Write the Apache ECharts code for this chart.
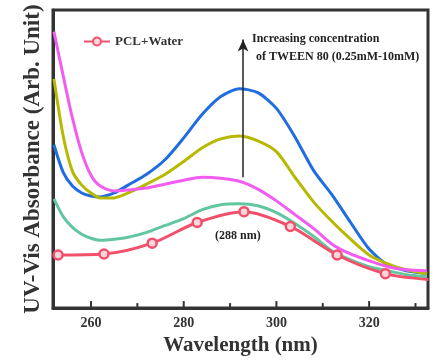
<!DOCTYPE html>
<html><head><meta charset="utf-8">
<script src="https://cdn.jsdelivr.net/npm/echarts@6/dist/echarts.min.js"></script>
<style>html,body{margin:0;padding:0;background:#fff}#c{width:442px;height:361px}</style>
</head><body><div id="c"></div>
<script>
// Wavelength grid (nm)
const wl = [252, 254, 256, 258, 260, 262, 265, 268, 272, 276, 280, 284, 288, 292, 296, 300, 304, 308, 312, 316, 320, 324, 328, 332.5];
// Absorbance (arb. units) for increasing TWEEN 80 concentration
const blueVals    = [166, 138, 124, 117, 114, 113, 117, 125, 136, 151, 173, 197, 215, 223, 219, 203, 174, 140, 115, 87, 60, 44, 38, 35];
const oliveVals   = [233, 175, 139, 125, 117, 112, 112, 117, 126, 136, 149, 163, 172, 175, 170, 159, 133, 108, 88, 70, 54, 45, 39, 35];
const magentaVals = [281, 236, 193, 158, 135, 124, 119, 120, 122, 126, 130, 133, 132, 129, 121, 109, 95, 81, 65, 55, 48, 42, 39, 38];
const greenVals   = [111, 93, 82, 75, 71, 69, 70, 72, 77, 84, 91, 100, 105, 106, 104, 97, 86, 73, 58, 49, 42, 38, 34, 32];
// PCL + Water (with markers)
const pclWl   = [251.8, 252.9, 262.8, 273.2, 282.9, 293.0, 303.0, 313.1, 323.5, 332.8];
const pclVals = [54, 54, 55, 66, 87, 98, 83, 54, 35, 29];
const pclMarked = [false, true, true, true, true, true, true, true, true, false];

const xMajor = [260, 280, 300, 320];
const xMinor = [270, 290, 310, 330];
const xMin = 251.8, xMax = 332.7;

const zip = (xs, ys) => xs.map((x, i) => [x, ys[i]]);
const serif = '"Liberation Serif", "DejaVu Serif", serif';
const dark = '#333';

const chart = echarts.init(document.getElementById('c'), null, {renderer: 'canvas'});
function lineSeries(name, data, color) {
  return {name, type: 'line', data, smooth: 0.25, showSymbol: false, symbol: 'none',
    lineStyle: {color, width: 3}, itemStyle: {color}, z: 2};
}
function tickSeries(values, len) {
  return {type: 'custom', coordinateSystem: 'cartesian2d', silent: true, z: 10,
    data: values.map(v => [v, 0]),
    encode: {x: 0, y: 1},
    renderItem: function (params, api) {
      const p = api.coord([api.value(0), 0]);
      return {type: 'rect', shape: {x: p[0] - 1, y: p[1] - len, width: 2, height: len},
        style: {fill: dark}};
    }};
}
chart.setOption({
  animation: false,
  backgroundColor: '#fff',
  grid: {left: 53, right: 14, top: 10, bottom: 48, show: true, borderColor: dark, borderWidth: 3, backgroundColor: 'transparent'},
  legend: {data: ['PCL+Water'], left: 78, top: 30, itemWidth: 26, itemHeight: 10,
    textStyle: {fontFamily: serif, fontWeight: 'bold', fontSize: 13, color: dark}},
  xAxis: {type: 'value', min: xMin, max: xMax, splitLine: {show: false},
      axisLine: {show: true, onZero: false, lineStyle: {color: dark, width: 3}},
      axisTick: {show: false},
      axisLabel: {customValues: xMajor, margin: 8, fontFamily: serif, fontWeight: 'bold', fontSize: 14, color: dark},
      name: 'Wavelength (nm)', nameLocation: 'middle', nameGap: 22,
      nameTextStyle: {fontFamily: serif, fontWeight: 'bold', fontSize: 21, color: dark}},
  yAxis: {type: 'value', min: 0, max: 303, splitLine: {show: false}, axisLabel: {show: false}, axisTick: {show: false},
    axisLine: {show: true, lineStyle: {color: dark, width: 3}},
    name: 'UV-Vis Absorbance (Arb. Unit)', nameLocation: 'middle', nameGap: 8,
    nameTextStyle: {fontFamily: serif, fontWeight: 'bold', fontSize: 23, color: dark}},
  series: [
    lineSeries('b', zip(wl, blueVals), '#1f6de0'),
    lineSeries('o', zip(wl, oliveVals), '#b7b800'),
    lineSeries('m', zip(wl, magentaVals), '#f25cf0'),
    lineSeries('g', zip(wl, greenVals), '#62c6a0'),
    {name: 'PCL+Water', type: 'line', smooth: 0.3, z: 3,
      data: pclWl.map((x, i) => ({value: [x, pclVals[i]], symbol: pclMarked[i] ? 'circle' : 'none'})),
      symbol: 'circle', symbolSize: 9, showSymbol: true,
      lineStyle: {color: '#f2506a', width: 3},
      itemStyle: {color: '#fbd6dc', borderColor: '#f2506a', borderWidth: 2.5},
      markLine: {silent: true, symbol: ['none', 'arrow'], symbolSize: [8, 12], label: {show: false},
        lineStyle: {color: '#222', width: 1.5, type: 'solid'},
        data: [[{coord: [292.8, 133]}, {coord: [292.8, 273]}]]}},
    tickSeries(xMajor, 7),
    tickSeries(xMinor, 5)
  ],
  graphic: [
    {type: 'text', left: 252, top: 33, style: {text: 'Increasing concentration', font: 'bold 12px ' + serif, fill: '#222'}},
    {type: 'text', left: 256, top: 51, style: {text: 'of TWEEN 80 (0.25mM-10mM)', font: 'bold 12px ' + serif, fill: '#222'}},
    {type: 'text', left: 215, top: 230, style: {text: '(288 nm)', font: 'bold 12px ' + serif, fill: '#222'}}
  ]
});
</script></body></html>
